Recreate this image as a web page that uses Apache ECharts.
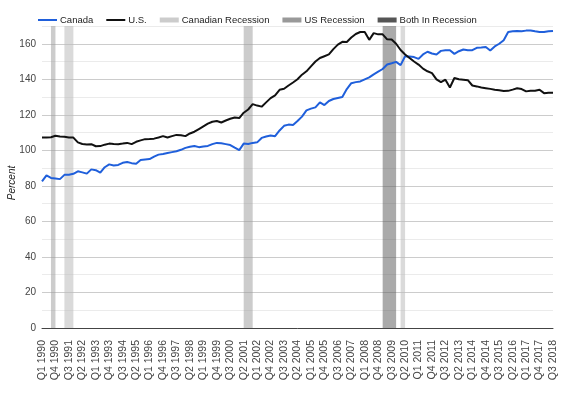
<!DOCTYPE html>
<html><head><meta charset="utf-8">
<script src="https://cdn.jsdelivr.net/npm/echarts@6/dist/echarts.min.js"></script>
<style>html,body{margin:0;padding:0;background:#fff}#c{width:574px;height:395px}</style>
</head><body><div id="c"></div>
<script>
// Quarterly categories Q1 1990 .. Q3 2018
var startYear = 1990, quarterCount = 115;
var categories = [];
for (var i = 0; i < quarterCount; i++) {
  categories.push('Q' + (i % 4 + 1) + ' ' + (startYear + Math.floor(i / 4)));
}
var canada = [82.5,85.9,84.5,84.2,83.8,86.2,86.3,86.8,88.2,87.6,86.9,89.3,88.8,87.4,90.5,92.1,91.5,91.8,93.0,93.4,
  92.8,92.5,94.6,94.9,95.1,96.5,97.6,98.0,98.5,99.0,99.5,100.3,101.4,102.0,102.5,101.8,102.2,102.5,103.5,104.2,
  104.0,103.5,103.0,101.5,100.1,103.8,103.6,104.2,104.5,107.0,107.8,108.4,108.0,111.2,113.8,114.5,114.3,116.5,119.0,122.5,
  123.5,124.2,127.0,125.5,127.8,128.9,129.5,130.0,134.5,137.8,138.4,138.8,140.0,141.1,142.8,144.3,145.8,148.3,149.0,149.8,
  148.0,153.0,152.8,152.5,151.5,154.0,155.5,154.5,154.0,156.0,156.3,156.4,154.3,155.8,156.8,156.4,156.4,157.7,157.9,158.2,
  156.2,158.5,160.0,162.0,166.6,167.0,167.2,167.1,167.4,167.5,167.0,166.6,166.6,167.0,167.2];
var us = [107.2,107.2,107.4,108.2,107.8,107.6,107.2,107.2,104.5,103.6,103.3,103.5,102.3,102.4,103.2,103.8,103.6,103.5,103.8,104.2,
  103.5,104.8,105.6,106.3,106.4,106.6,107.2,108.0,107.2,108.0,108.7,108.5,108.0,109.5,110.5,112.0,113.5,115.0,116.1,116.5,
  115.7,116.8,117.8,118.5,118.2,121.2,123.0,126.0,125.2,124.6,127.0,129.4,131.0,134.1,134.7,136.5,138.2,140.0,142.6,144.5,
  147.3,150.0,152.0,153.0,154.0,157.0,159.5,161.1,161.0,163.5,165.5,166.6,166.6,162.2,166.0,165.3,165.3,162.5,162.4,160.0,
  156.5,154.0,152.0,150.0,148.3,146.0,144.5,143.5,140.0,138.4,139.8,135.4,140.7,140.0,139.8,139.5,136.5,136.0,135.4,135.0,
  134.6,134.1,133.8,133.4,133.5,134.2,135.0,134.5,133.2,133.6,133.5,134.1,132.2,132.4,132.4];
// Recession periods [from, to] (category labels)
var usRecessions = [['Q3 1990','Q4 1990'], ['Q2 2001','Q4 2001']];
var canadianRecessions = [['Q2 1991','Q4 1991'], ['Q1 2010','Q2 2010']];
var bothRecessions = [['Q1 2009','Q4 2009']];
var yTicks = [0,20,40,60,80,100,120,140,160];

var FONT = '"Liberation Sans", Arial, sans-serif';
var LINE_ICON = 'path://M0,0H19V2H0Z';
var BAR_ICON = 'path://M0,0H19V5H0Z';
function areas(list) {
  return list.map(function (r) { return [{xAxis: r[0]}, {xAxis: r[1]}]; });
}
function recSeries(name, legendColor, fill, list) {
  return {
    name: name, type: 'line', data: [], symbol: 'none', z: 1,
    lineStyle: {width: 5, color: legendColor}, itemStyle: {color: legendColor},
    markArea: {silent: true, itemStyle: {color: fill}, data: areas(list)}
  };
}
var chart = echarts.init(document.getElementById('c'));
chart.setOption({
  animation: false,
  textStyle: {fontFamily: FONT},
  legend: {
    top: 10, left: 33, itemWidth: 19, itemHeight: 10, itemGap: 13, symbolKeepAspect: true,
    textStyle: {fontSize: 9.5, color: '#222', fontFamily: FONT, padding: [0, 0, 0, -2]},
    data: [
      {name: 'Canada', icon: LINE_ICON},
      {name: 'U.S.', icon: LINE_ICON},
      {name: 'Canadian Recession', icon: BAR_ICON},
      {name: 'US Recession', icon: BAR_ICON},
      {name: 'Both In Recession', icon: BAR_ICON}
    ]
  },
  grid: {left: 42, right: 21, top: 26, bottom: 67, containLabel: false, outerBoundsMode: 'none'},
  xAxis: {
    type: 'category', data: categories, boundaryGap: false,
    axisLine: {lineStyle: {color: '#444', width: 1}},
    axisTick: {show: false},
    axisLabel: {rotate: 90, interval: 2, fontSize: 10.5, color: '#444', margin: 12, fontFamily: FONT},
    splitLine: {show: false}
  },
  yAxis: {
    type: 'value', min: 0, max: 170, interval: 10,
    name: 'Percent', nameLocation: 'middle', nameGap: 25, nameMoveOverlap: false,
    nameTextStyle: {fontStyle: 'italic', fontSize: 10, color: '#222', fontFamily: FONT, padding: [0, 12, 0, 0]},
    axisLine: {show: false}, axisTick: {show: false},
    axisLabel: {fontSize: 10, color: '#444', margin: 6, fontFamily: FONT,
      formatter: function (v) { return yTicks.indexOf(v) >= 0 ? String(v) : ''; }},
    splitLine: {lineStyle: {color: ['#cccccc', '#ebebeb'], width: 1}}
  },
  series: [
    recSeries('Canadian Recession', '#cccccc', 'rgba(187,187,187,0.55)', canadianRecessions),
    recSeries('US Recession', '#999999', 'rgba(153,153,153,0.5)', usRecessions),
    recSeries('Both In Recession', '#555555', 'rgba(85,85,85,0.5)', bothRecessions),
    {name: 'Canada', type: 'line', data: canada, symbol: 'none', z: 3,
      lineStyle: {width: 2, color: '#1f5fdb'}, itemStyle: {color: '#1f5fdb'}},
    {name: 'U.S.', type: 'line', data: us, symbol: 'none', z: 4,
      lineStyle: {width: 2, color: '#111111'}, itemStyle: {color: '#111111'}}
  ]
});
</script></body></html>
